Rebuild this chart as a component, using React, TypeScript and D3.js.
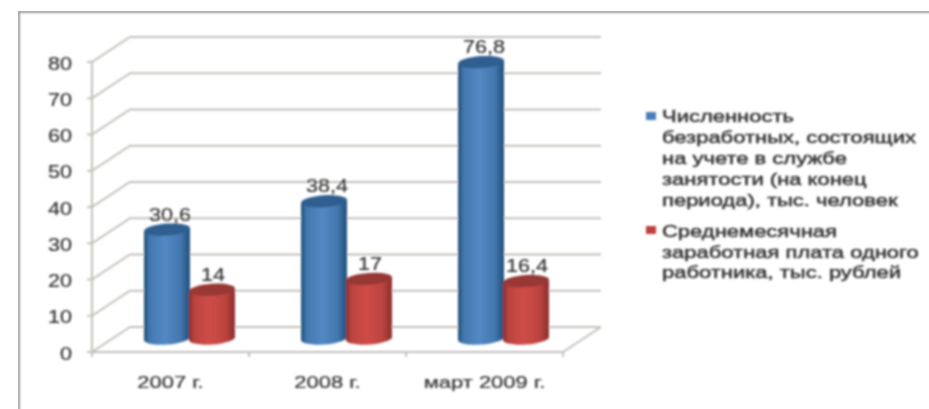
import React from "react";
import * as d3 from "d3";

const categories = ["2007 г.", "2008 г.", "март 2009 г."];
const unemployed = [30.6, 38.4, 76.8];
const wages = [14, 17, 16.4];
const unemployedLabels = ["30,6", "38,4", "76,8"];
const wageLabels = ["14", "17", "16,4"];
const yTicks = [0, 10, 20, 30, 40, 50, 60, 70, 80];
const legendBlue = ["Численность", "безработных, состоящих", "на учете в службе", "занятости (на конец", "периода), тыс. человек"];
const legendRed = ["Среднемесячная", "заработная плата одного", "работника, тыс. рублей"];

const W = 929, H = 409;
const FONT = "'Liberation Sans', Arial, sans-serif";
const TEXT = "#333333";
const GRID = "#c4c1bb";
const dx = 38, dy = -25;

const y = d3.scaleLinear().domain([0, 80]).range([352, 62]);
const yBar = d3.scaleLinear().domain([0, 80]).range([340.5, 50.5]);
const x = d3.scaleBand().domain(categories).range([92, 563]);
const barW = 46;
const rx = barW / 2, ry = 6;
const TILT = -4;
const tiltDy = rx * Math.sin((-TILT * Math.PI) / 180);

function T({ x, y, s, size, sx, anchor = "start", heavy = 0.2 }: { x: number; y: number; s: string; size: number; sx: number; anchor?: string; heavy?: number }) {
  return (
    <text
      transform={`translate(${x},${y}) scale(${sx},1)`}
      textAnchor={anchor}
      fontSize={size}
      fill={TEXT}
      stroke={TEXT}
      strokeWidth={heavy}
      fontFamily={FONT}
    >
      {s}
    </text>
  );
}

function Cyl({ cx, value, label, fill, top, labelDx = 0 }: { cx: number; value: number; label: string; fill: string; top: string; labelDx?: number }) {
  const ty = yBar(value);
  const by = yBar(0) - 2;
  const l = cx - rx, r = cx + rx;
  return (
    <g>
      <path
        d={`M${l},${ty + tiltDy} L${l},${by + tiltDy} A${rx},${ry} ${TILT} 0 0 ${r},${by - tiltDy} L${r},${ty - tiltDy} Z`}
        fill={`url(#${fill})`}
      />
      <ellipse cx={cx} cy={ty} rx={rx} ry={ry} fill={top} transform={`rotate(${TILT} ${cx} ${ty})`} />
      <T x={cx + labelDx} y={ty - 9} s={label} size={18} sx={1.2} anchor="middle" />
    </g>
  );
}

function grad(id: string, c: string[]) {
  return (
    <linearGradient id={id} x1="0" x2="1" y1="0" y2="0">
      <stop offset="0" stopColor={c[0]} />
      <stop offset="0.12" stopColor={c[1]} />
      <stop offset="0.45" stopColor={c[2]} />
      <stop offset="0.8" stopColor={c[1]} />
      <stop offset="1" stopColor={c[0]} />
    </linearGradient>
  );
}

export default function App() {
  return (
    <svg width={W} height={H} style={{ position: "absolute", left: 0, top: 0 }}>
      <defs>
        {grad("blueG", ["#1f4e79", "#4377ae", "#5488c4"])}
        {grad("redG", ["#8a2f2c", "#bb433f", "#cf4c48"])}
        <filter id="soft" x="0" y="0" width="100%" height="100%">
          <feGaussianBlur stdDeviation="0.9" />
        </filter>
      </defs>
      <rect width={W} height={H} fill="#fff" />
      <g filter="url(#soft)">
        <path d={`M18.5,${H + 5} L18.5,11.5 L${W + 5},11.5`} fill="none" stroke="#918f8b" strokeWidth={2.5} />
        {yTicks.map((t) => (
          <g key={t}>
            <path d={`M${92 - 5},${y(t)} L92,${y(t)} L${92 + dx},${y(t) + dy} L${563 + dx},${y(t) + dy}`} fill="none" stroke={GRID} strokeWidth={2} />
            <T x={72} y={y(t) + 7.5} s={String(t)} size={18} sx={1.2} anchor="end" />
          </g>
        ))}
        <path d={`M92,${y(0)} L92,${y(80)}`} stroke={GRID} strokeWidth={2} />
        <path d={`M92,${y(0)} L563,${y(0)} L${563 + dx},${y(0) + dy}`} fill="none" stroke={GRID} strokeWidth={2} />
        {[92, ...categories.map((c) => (x(c) as number) + x.bandwidth())].map((px) => (
          <path key={px} d={`M${px},${y(0)} L${px},${y(0) + 5}`} stroke={GRID} strokeWidth={2} />
        ))}
        {categories.map((c, i) => {
          const c0 = (x(c) as number) + x.bandwidth() / 2 + 18.5;
          const blueCx = c0 - 22;
          const redCx = c0 + 23;
          return (
            <g key={c}>
              <Cyl cx={blueCx} value={unemployed[i]} label={unemployedLabels[i]} fill="blueG" top="#2f5f90" labelDx={3} />
              <Cyl cx={redCx} value={wages[i]} label={wageLabels[i]} fill="redG" top="#973835" labelDx={1} />
              <T x={(x(c) as number) + x.bandwidth() / 2} y={388} s={c} size={16.5} sx={1.33} anchor="middle" />
            </g>
          );
        })}
        <rect x={646} y={112} width={10} height={8} fill="#4a7ebb" />
        {legendBlue.map((s, i) => (
          <T key={s} x={662} y={122 + i * 21} s={s} size={16} sx={1.375} heavy={0.45} />
        ))}
        <rect x={646} y={226} width={10} height={8} fill="#c0403c" />
        {legendRed.map((s, i) => (
          <T key={s} x={662} y={237 + i * 20.5} s={s} size={16} sx={1.375} heavy={0.45} />
        ))}
      </g>
    </svg>
  );
}
